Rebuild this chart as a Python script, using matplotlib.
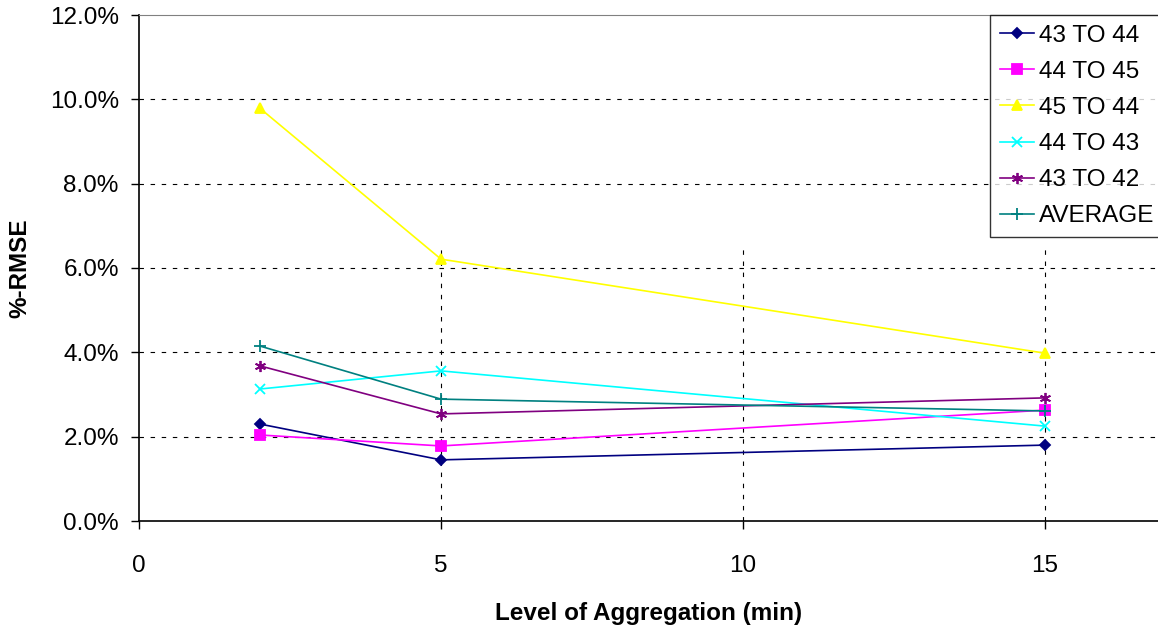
import matplotlib
matplotlib.use("Agg")
import matplotlib.pyplot as plt
from matplotlib.ticker import FuncFormatter

plt.rcParams['font.family'] = ['Liberation Sans', 'DejaVu Sans']

# aggregation levels (min)
levels = [2, 5, 15]

# %-RMSE per segment
s43_44 = [2.30, 1.45, 1.80]
s44_45 = [2.04, 1.78, 2.63]
s45_44 = [9.79, 6.21, 3.98]
s44_43 = [3.13, 3.56, 2.25]
s43_42 = [3.68, 2.54, 2.92]
avg = [4.15, 2.89, 2.61]

names = ["43 TO 44", "44 TO 45", "45 TO 44", "44 TO 43", "43 TO 42", "AVERAGE"]
series = [s43_44, s44_45, s45_44, s44_43, s43_42, avg]
colors = ["#000080", "#FF00FF", "#FFFF00", "#00FFFF", "#800080", "#008080"]
markers = ["D", "s", "^", "x", (6, 2, 0), "+"]
msizes = [5.5, 7, 7.5, 7, 8, 8]

fig = plt.figure(figsize=(11.58, 6.28), dpi=100)
ax = fig.add_axes([139/1158, 1-521/628, 1-139/1158, (521-15)/628])

for i in range(len(series)):
    ax.plot(levels, series[i], color=colors[i], marker=markers[i], markersize=msizes[i],
            linewidth=1.2, label=names[i], markeredgewidth=1.3, zorder=3)

ax.set_xlim(0, 16.87)
ax.set_ylim(0, 12)
ax.set_xticks([0, 5, 10, 15])
ax.set_yticks([0, 2, 4, 6, 8, 10, 12])
ax.yaxis.set_major_formatter(FuncFormatter(lambda v, p: "%.1f%%" % v))

# horizontal grid
for yv in [2, 4, 6, 8, 10]:
    ax.axhline(yv, color="black", linestyle=(0, (4, 6)), linewidth=0.8, zorder=1)
# vertical grid (drawn only up to ~6.5% as in the source)
for xv in [5, 10, 15]:
    ax.vlines(xv, 0, 6.5, color="black", linestyle=(0, (4, 6)), linewidth=0.8, zorder=1)

ax.spines['top'].set_color("#808080")
ax.spines['right'].set_visible(False)
ax.spines['left'].set_linewidth(1.2)
ax.spines['bottom'].set_linewidth(1.2)
ax.tick_params(axis='both', direction='out', length=6, width=1, labelsize=17.5)
ax.tick_params(axis='y', pad=8.5)
ax.tick_params(axis='x', pad=18.5)

ax.set_xlabel("Level of Aggregation (min)", fontsize=17.5, fontweight='bold', labelpad=18)
ax.set_ylabel("%-RMSE", fontsize=17.5, fontweight='bold', labelpad=13)

leg = ax.legend(loc='upper left', bbox_to_anchor=(990/1158, 1-15/628),
                bbox_transform=fig.transFigure, borderaxespad=0, fontsize=17.5,
                frameon=True, fancybox=False, edgecolor="black", handlelength=1.4,
                handletextpad=0.2, labelspacing=0.58, borderpad=0.4)
leg.get_frame().set_linewidth(1.0)

fig.savefig("out.png", dpi=100)
